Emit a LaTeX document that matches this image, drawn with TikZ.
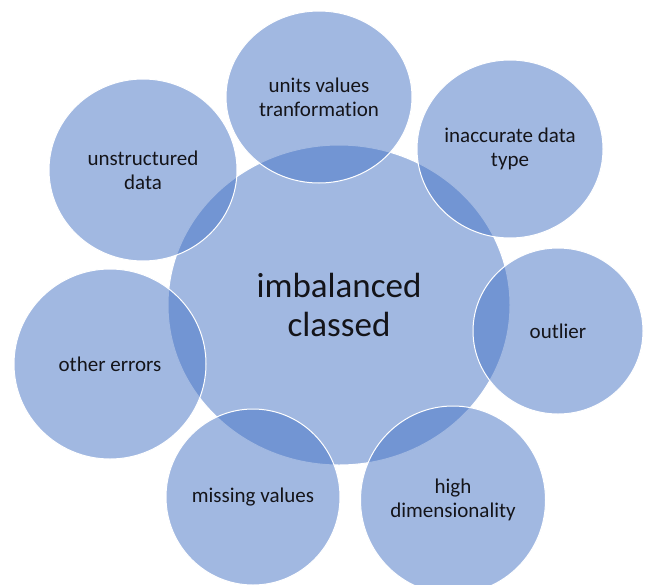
\documentclass[tikz,border=0pt]{standalone}
\usepackage{fontspec}
\setmainfont[Ligatures=NoCommon]{Carlito}
\usetikzlibrary{shapes.geometric}

\tikzset{
  bubble/.style={ellipse, inner sep=0pt, draw=white, line width=1pt,
    fill={rgb,255:red,68;green,114;blue,196}, fill opacity=0.5, text opacity=1,
    text={rgb,255:red,20;green,20;blue,25}, align=center,
    font=\fontsize{21}{24}\selectfont},
  hub/.style={bubble, font=\fontsize{35}{39}\selectfont}
}

\begin{document}
\begin{tikzpicture}[x=1pt,y=1pt,yscale=-1]
\useasboundingbox (0,0) rectangle (650,584);

% Centre
\node [hub, minimum width=342, minimum height=320] (imb) at (339,305) {imbalanced\\classed};

% Outer ring
\node [bubble, minimum width=186, minimum height=172] (units) at (319,97) {units values\\tranformation};
\node [bubble, minimum width=186, minimum height=178] (inacc) at (510,149) {inaccurate data\\type};
\node [bubble, minimum width=188, minimum height=182] (unstruct) at (143,170) {unstructured\\data};
\node [bubble, minimum width=170, minimum height=166] (outlier) at (558,331) {outlier};
\node [bubble, minimum width=192, minimum height=190] (other) at (110,364) {other errors};
\node [bubble, minimum width=174, minimum height=176] (missing) at (253,497) {missing values};
\node [bubble, minimum width=185, minimum height=188] (highdim) at (453,500) {high\\dimensionality};

\end{tikzpicture}
\end{document}
